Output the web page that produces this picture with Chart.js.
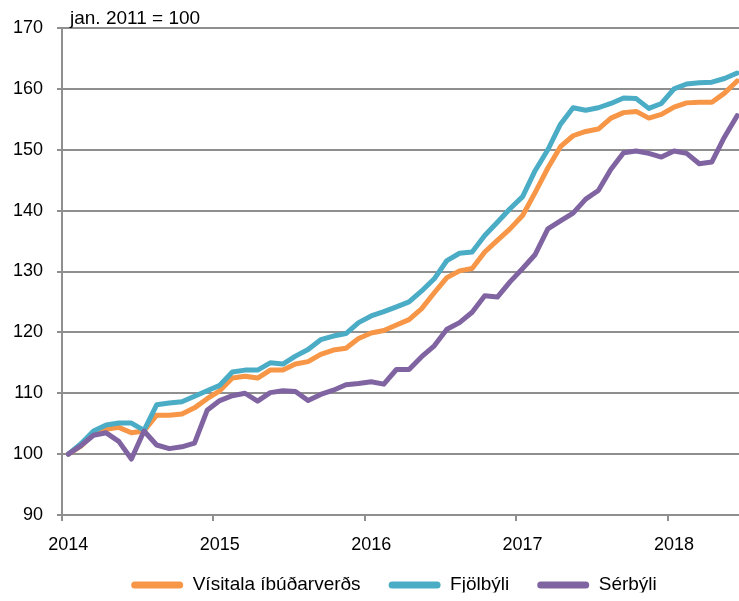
<!DOCTYPE html>
<html>
<head>
<meta charset="utf-8">
<script src="https://cdn.jsdelivr.net/npm/chart.js@4"></script>
<style>
  html, body { margin: 0; padding: 0; background: #fff; overflow: hidden; width: 739px; height: 601px; }
  #wrap { position: relative; width: 788px; height: 601px; }
</style>
</head>
<body>
<div id="wrap"><canvas id="chart"></canvas></div>
<script>
// monthly index, jan. 2014 - jún. 2018
const years = ['2014', '2015', '2016', '2017', '2018'];
const noteText = 'jan. 2011 = 100';

const visitala = [
  100, 101.3, 103.3, 104.1, 104.4, 103.5, 103.8, 106.4, 106.4, 106.6,
  107.6, 109.1, 110.4, 112.5, 112.8, 112.5, 113.8, 113.8, 114.8, 115.2,
  116.4, 117.1, 117.4, 119.0, 119.9, 120.3, 121.2, 122.1, 123.9, 126.5,
  129.0, 130.1, 130.5, 133.2, 135.1, 137.0, 139.2, 143.0, 147.0, 150.5,
  152.3, 153.0, 153.4, 155.2, 156.1, 156.3, 155.2, 155.8, 157.0, 157.7,
  157.8, 157.8, 159.3, 161.3
];
const fjolbyli = [
  100, 101.7, 103.8, 104.8, 105.1, 105.1, 103.9, 108.1, 108.4, 108.6,
  109.5, 110.4, 111.3, 113.5, 113.8, 113.8, 115.0, 114.8, 116.1, 117.2,
  118.8, 119.4, 119.8, 121.6, 122.7, 123.4, 124.2, 125.0, 126.8, 128.8,
  131.8, 133.0, 133.2, 135.9, 138.1, 140.3, 142.3, 146.6, 150.0, 154.2,
  156.9, 156.5, 156.9, 157.6, 158.5, 158.4, 156.8, 157.6, 160.0, 160.8,
  161.0, 161.1, 161.7, 162.6
];
const serbyli = [
  100, 101.4, 103.1, 103.5, 102.1, 99.2, 103.8, 101.5, 100.9, 101.2,
  101.8, 107.2, 108.8, 109.6, 110.0, 108.7, 110.1, 110.4, 110.3, 108.8,
  109.8, 110.5, 111.4, 111.6, 111.9, 111.5, 113.9, 113.9, 116.0, 117.8,
  120.5, 121.6, 123.3, 126.0, 125.8, 128.3, 130.5, 132.8, 137.0, 138.3,
  139.6, 141.9, 143.3, 146.8, 149.5, 149.8, 149.4, 148.8, 149.8, 149.4,
  147.7, 148.0, 152.1, 155.6
];

// the axis runs a few months past the cropped right edge
const labels = years
  .flatMap(y => ['01','02','03','04','05','06','07','08','09','10','11','12'].map(m => y + '-' + m))
  .slice(0, 57);

const FONT = '"Liberation Sans", Arial, sans-serif';
const GRID = '#8f8f8f';

const baseNote = {
  id: 'baseNote',
  afterDraw(chart) {
    const { ctx, chartArea } = chart;
    ctx.save();
    ctx.font = '19px ' + FONT;
    ctx.fillStyle = '#000';
    ctx.textBaseline = 'alphabetic';
    ctx.fillText(noteText, chartArea.left + 8, chartArea.top - 4.5);
    ctx.restore();
  }
};

// wide gaps between legend items, but a short legend box sitting a bit higher
const legendFit = {
  id: 'legendFit',
  beforeLayout(chart) {
    const lg = chart.legend;
    if (!lg || lg._fitPatched) return;
    const fit = lg.fit;
    lg.fit = function () { fit.call(this); this.height = 45; };
    lg._fitPatched = true;
  },
  afterLayout(chart) {
    const lg = chart.legend;
    if (!lg) return;
    lg.top -= 8.5;
    lg.bottom -= 8.5;
  }
};

const line = (label, data, color, order) => ({
  label, data, order,
  borderColor: color,
  backgroundColor: color,
  borderWidth: 5,
  pointRadius: 0,
  tension: 0,
  borderJoinStyle: 'round',
  borderCapStyle: 'round',
  fill: false
});

new Chart(document.getElementById('chart'), {
  type: 'line',
  data: {
    labels,
    datasets: [
      line('Vísitala íbúðarverðs', visitala, '#f79646', 3),
      line('Fjölbýli', fjolbyli, '#4bacc6', 2),
      line('Sérbýli', serbyli, '#8064a2', 1)
    ]
  },
  options: {
    animation: false,
    responsive: true,
    maintainAspectRatio: false,
    layout: { padding: { top: 28, left: 0, right: 0, bottom: 0 } },
    plugins: {
      tooltip: { enabled: false },
      legend: {
        position: 'bottom',
        labels: {
          color: '#000',
          font: { family: FONT, size: 19 },
          boxWidth: 52,
          boxHeight: 7,
          padding: 28,
          sort: (a, b) => a.datasetIndex - b.datasetIndex,
          generateLabels: chart => Chart.defaults.plugins.legend.labels.generateLabels(chart)
            .map(l => ({ ...l, lineWidth: 0, borderRadius: 3.5 }))
        }
      }
    },
    scales: {
      x: {
        offset: true,
        afterFit: s => { s.height = 41; },
        grid: {
          offset: true,
          drawOnChartArea: false,
          tickLength: 6,
          lineWidth: 2,
          color: c => (c.index % 12 === 0 ? GRID : 'rgba(0,0,0,0)')
        },
        border: { color: GRID, width: 2 },
        ticks: {
          autoSkip: false,
          maxRotation: 0,
          padding: 13,
          color: '#000',
          font: { family: FONT, size: 18 },
          callback: (v, i) => (i % 12 === 0 ? labels[i].slice(0, 4) : '')
        }
      },
      y: {
        min: 90,
        max: 170,
        afterFit: s => { s.width = 62; },
        grid: { color: GRID, lineWidth: 2, tickLength: 5 },
        border: { color: GRID, width: 2 },
        ticks: {
          stepSize: 10,
          padding: 14,
          color: '#000',
          font: { family: FONT, size: 18 }
        }
      }
    }
  },
  plugins: [baseNote, legendFit]
});
</script>
</body>
</html>
